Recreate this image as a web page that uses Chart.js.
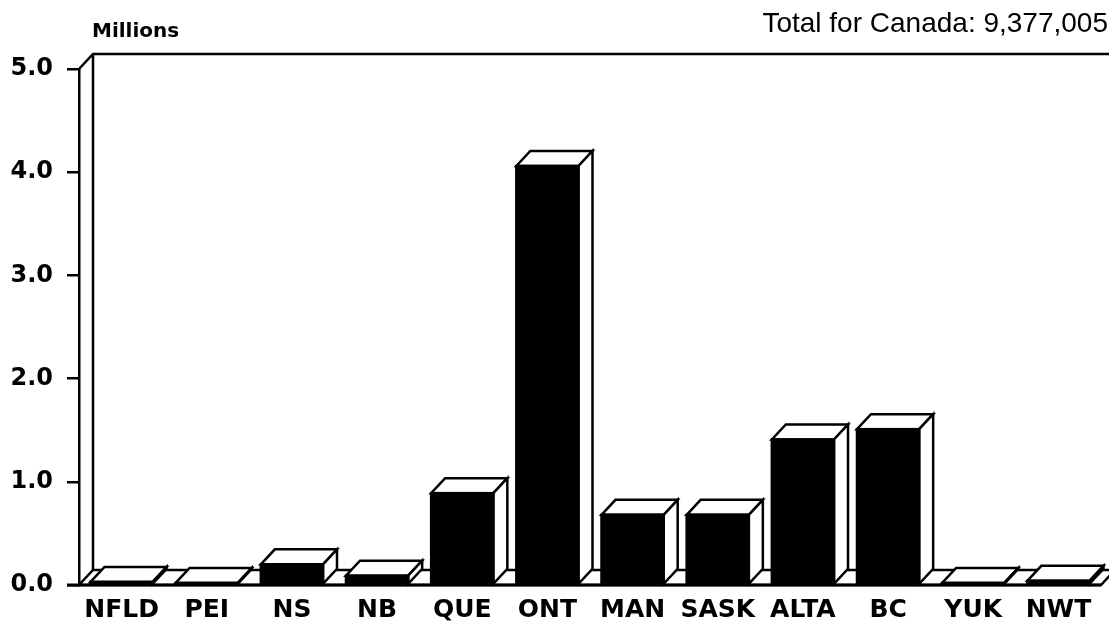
<!DOCTYPE html>
<html>
<head>
<meta charset="utf-8">
<script src="https://cdn.jsdelivr.net/npm/chart.js@4"></script>
<style>
  html, body { margin: 0; padding: 0; background: #fff; }
  canvas { display: block; }
</style>
</head>
<body>
<canvas id="c" width="1109" height="628" style="width:1109px;height:628px"></canvas>
<script>
const categories = ['NFLD', 'PEI', 'NS', 'NB', 'QUE', 'ONT', 'MAN', 'SASK', 'ALTA', 'BC', 'YUK', 'NWT'];
const populations = [0.03, 0.02, 0.20, 0.09, 0.89, 4.06, 0.68, 0.68, 1.41, 1.51, 0.02, 0.04];
const yTickLabels = ['0.0', '1.0', '2.0', '3.0', '4.0', '5.0'];
const unitLabel = 'Millions';
const totalLabel = 'Total for Canada: 9,377,005';

const DX = 14, DY = 15;
const BOLD = 'DejaVu Sans';

const box3d = {
  id: 'box3d',
  beforeDatasetsDraw(chart) {
    const { ctx, chartArea: a } = chart;
    ctx.save();
    ctx.strokeStyle = '#000';
    ctx.lineWidth = 2.5;
    ctx.lineJoin = 'miter';
    // back wall outline
    ctx.beginPath();
    ctx.moveTo(a.left, a.top);
    ctx.lineTo(a.left + DX, a.top - DY);
    ctx.lineTo(chart.width, a.top - DY);
    ctx.moveTo(a.left + DX, a.top - DY);
    ctx.lineTo(a.left + DX, a.bottom - DY);
    ctx.stroke();
    // floor
    ctx.beginPath();
    ctx.moveTo(a.left, a.bottom);
    ctx.lineTo(a.right, a.bottom);
    ctx.lineTo(a.right + DX, a.bottom - DY);
    ctx.lineTo(a.left + DX, a.bottom - DY);
    ctx.closePath();
    ctx.fillStyle = '#fff';
    ctx.fill();
    ctx.stroke();
    ctx.restore();
  },
  afterDatasetsDraw(chart) {
    const { ctx, chartArea: a } = chart;
    const meta = chart.getDatasetMeta(0);
    ctx.save();
    ctx.strokeStyle = '#000';
    ctx.fillStyle = '#fff';
    ctx.lineWidth = 2.5;
    meta.data.forEach(bar => {
      const p = bar.getProps(['x', 'y', 'base', 'width'], true);
      const x0 = p.x - p.width / 2, x1 = p.x + p.width / 2;
      // top face
      ctx.beginPath();
      ctx.moveTo(x0, p.y);
      ctx.lineTo(x0 + DX, p.y - DY);
      ctx.lineTo(x1 + DX, p.y - DY);
      ctx.lineTo(x1, p.y);
      ctx.closePath();
      ctx.fill();
      ctx.stroke();
      // side face
      ctx.beginPath();
      ctx.moveTo(x1, p.y);
      ctx.lineTo(x1 + DX, p.y - DY);
      ctx.lineTo(x1 + DX, p.base - DY);
      ctx.lineTo(x1, p.base);
      ctx.closePath();
      ctx.fill();
      ctx.stroke();
      // front outline
      ctx.strokeRect(x0, p.y, p.width, p.base - p.y);
    });
    // front floor edge
    ctx.beginPath();
    ctx.moveTo(a.left - 12, a.bottom);
    ctx.lineTo(a.right, a.bottom);
    ctx.lineWidth = 3;
    ctx.stroke();
    ctx.restore();
  },
  afterDraw(chart) {
    const { ctx } = chart;
    ctx.save();
    ctx.fillStyle = '#000';
    ctx.textBaseline = 'alphabetic';
    ctx.font = 'bold 20px "' + BOLD + '"';
    ctx.textAlign = 'left';
    ctx.fillText(unitLabel, 92, 37);
    ctx.font = '28px "Liberation Sans"';
    ctx.textAlign = 'right';
    ctx.fillText(totalLabel, 1108, 32);
    ctx.restore();
  }
};

new Chart(document.getElementById('c'), {
  type: 'bar',
  data: {
    labels: categories,
    datasets: [{
      data: populations,
      backgroundColor: '#000',
      borderWidth: 0,
      categoryPercentage: 1.0,
      barPercentage: 0.73
    }]
  },
  options: {
    responsive: false,
    devicePixelRatio: 1,
    animation: false,
    layout: { padding: { top: 69, right: 8, left: 0, bottom: 1 } },
    plugins: { legend: { display: false }, tooltip: { enabled: false } },
    scales: {
      x: {
        grid: { display: false },
        border: { display: false },
        ticks: {
          color: '#000',
          font: { family: BOLD, weight: 'bold', size: 25 },
          padding: 2,
          maxRotation: 0,
          autoSkip: false
        }
      },
      y: {
        min: 0,
        max: 5,
        afterFit(scale) { scale.width = 79; },
        grid: {
          drawOnChartArea: false,
          drawTicks: true,
          tickLength: 12,
          color: '#000',
          lineWidth: 2.5
        },
        border: { display: true, color: '#000', width: 2.5 },
        ticks: {
          stepSize: 1,
          color: '#000',
          padding: 14,
          font: { family: BOLD, weight: 'bold', size: 24 },
          callback: (v) => yTickLabels[v]
        }
      }
    }
  },
  plugins: [box3d]
});
</script>
</body>
</html>
